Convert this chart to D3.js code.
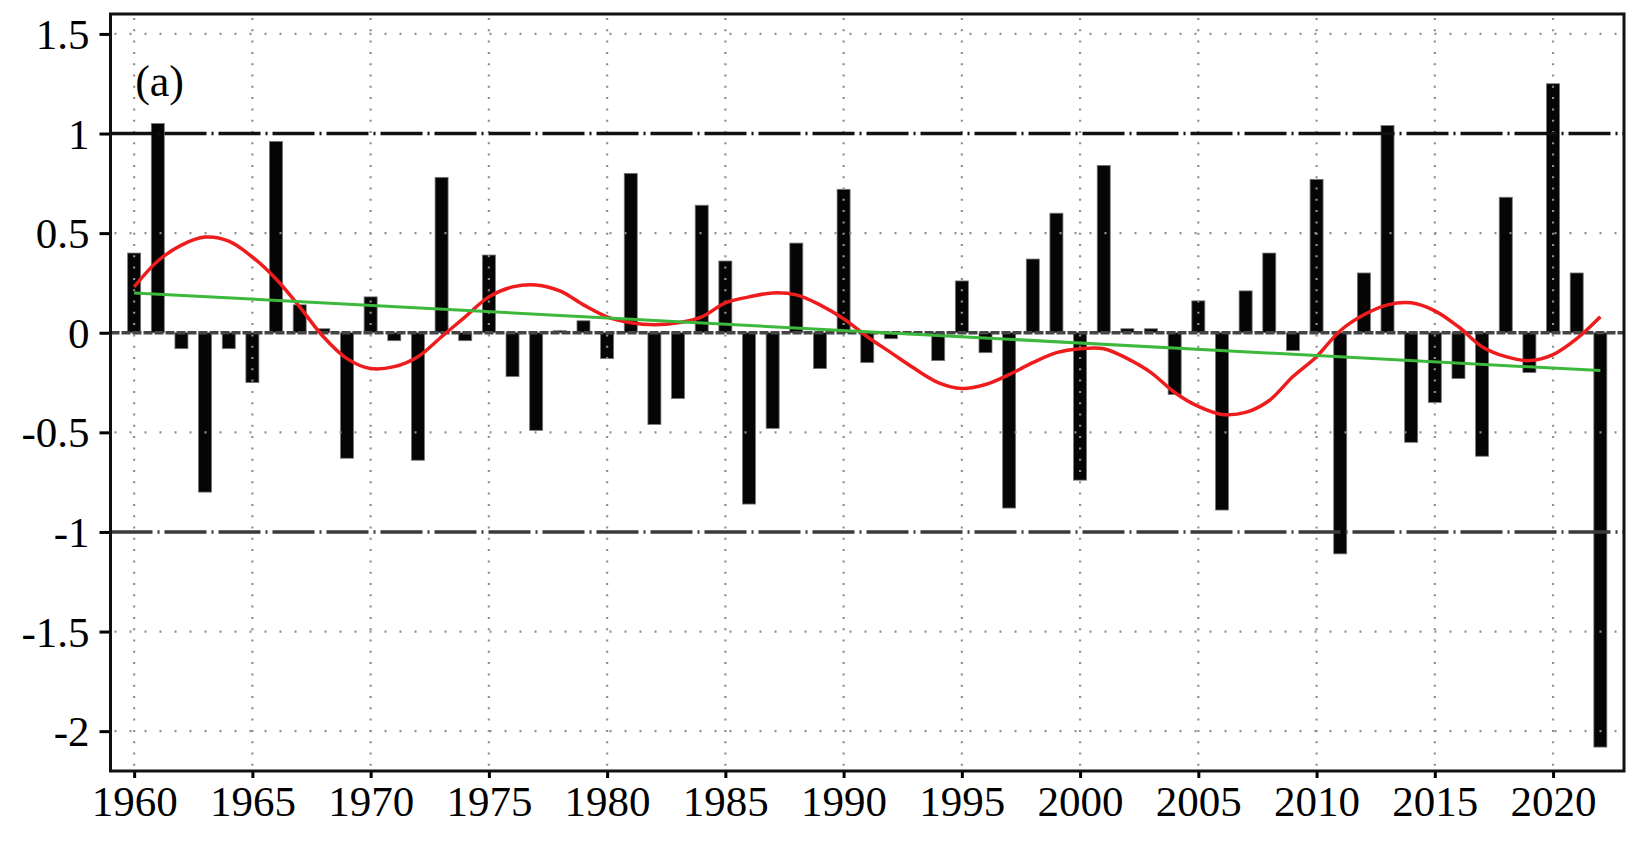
<!DOCTYPE html>
<html>
<head>
<meta charset="utf-8">
<script src="https://d3js.org/d3.v7.min.js"></script>
<style>
  body { margin: 0; background: #fff; }
  text { font-family: "Liberation Serif", "Times New Roman", serif; }
</style>
</head>
<body>
<div id="chart"><svg width="1632" height="851"></svg></div>
<script>
// yearly anomalies
var years = d3.range(1960, 2023)
var values = [
  0.40, 1.05, -0.08, -0.80, -0.08, -0.25, 0.96, 0.14, 0.02, -0.63,
  0.18, -0.04, -0.64, 0.78, -0.04, 0.39, -0.22, -0.49, 0.01, 0.06,
  -0.13, 0.80, -0.46, -0.33, 0.64, 0.36, -0.86, -0.48, 0.45, -0.18,
  0.72, -0.15, -0.03, -0.01, -0.14, 0.26, -0.10, -0.88, 0.37, 0.60,
  -0.74, 0.84, 0.02, 0.02, -0.31, 0.16, -0.89, 0.21, 0.40, -0.09,
  0.77, -1.11, 0.30, 1.04, -0.55, -0.35, -0.23, -0.62, 0.68, -0.20,
  1.25, 0.30, -2.08
]
// smoothed curve (red)
var smooth = [
  0.23, 0.36, 0.44, 0.48, 0.46, 0.38, 0.27, 0.13, -0.02, -0.13,
  -0.18, -0.17, -0.12, -0.02, 0.08, 0.18, 0.23, 0.24, 0.21, 0.14,
  0.08, 0.05, 0.04, 0.05, 0.08, 0.15, 0.18, 0.20, 0.19, 0.14,
  0.07, -0.02, -0.10, -0.18, -0.25, -0.28, -0.26, -0.21, -0.15, -0.10,
  -0.08, -0.08, -0.13, -0.20, -0.30, -0.37, -0.41, -0.40, -0.34, -0.22,
  -0.12, 0.01, 0.09, 0.14, 0.15, 0.11, 0.03, -0.07, -0.12, -0.14,
  -0.11, -0.03, 0.08
]
// linear trend (green)
var trendYears = [1960, 2022]
var trendValues = [0.20, -0.19]

var xTicks = d3.range(1960, 2021, 5)
var yTicks = [-2, -1.5, -1, -0.5, 0, 0.5, 1, 1.5]
var dotGrid = [-2, -1.5, -0.5, 0.5, 1.5]
var refLines = [1, -1]

var svg = d3.select('#chart svg')
var m = { left: 110.5, right: 1624, top: 14, bottom: 771 }

var x = d3.scaleLinear().domain([1959, 2023]).range([m.left, m.right])
var y = d3.scaleLinear().domain([-2.2, 1.6]).range([m.bottom, m.top])

svg.append('rect').attr('width', 1632).attr('height', 851).attr('fill', '#fff')

var barW = 13

// bars
svg.append('g')
  .selectAll('rect')
  .data(years)
  .enter()
  .append('rect')
  .attr('x', function(d) { return x(d) - barW / 2 })
  .attr('width', barW)
  .attr('y', function(d, i) { return y(Math.max(0, values[i])) })
  .attr('height', function(d, i) { return Math.abs(y(values[i]) - y(0)) })
  .attr('fill', '#050505')
  .attr('stroke', '#777')
  .attr('stroke-width', 0.8)

// dotted grid drawn over the bars
svg.append('g')
  .selectAll('line')
  .data(xTicks)
  .enter()
  .append('line')
  .attr('x1', function(d) { return x(d) })
  .attr('x2', function(d) { return x(d) })
  .attr('y1', m.top + 4)
  .attr('y2', m.bottom - 4)
  .attr('stroke', '#8f8f8f')
  .attr('stroke-width', 2.2)
  .attr('stroke-dasharray', '2,9.3')

svg.append('g')
  .selectAll('line')
  .data(dotGrid)
  .enter()
  .append('line')
  .attr('x1', m.left + 4)
  .attr('x2', m.right - 4)
  .attr('y1', function(d) { return y(d) })
  .attr('y2', function(d) { return y(d) })
  .attr('stroke', '#8f8f8f')
  .attr('stroke-width', 2.2)
  .attr('stroke-dasharray', '2,13')

// +1 / -1 dash-dot lines
svg.append('g')
  .selectAll('line')
  .data(refLines)
  .enter()
  .append('line')
  .attr('x1', m.left)
  .attr('x2', m.right)
  .attr('y1', function(d) { return y(d) })
  .attr('y2', function(d) { return y(d) })
  .attr('stroke', function(d) { return d > 0 ? '#111' : '#3a3a3a' })
  .attr('stroke-width', 3.5)
  .attr('stroke-dasharray', '42,5,2,5')

// zero line
svg.append('line')
  .attr('x1', m.left)
  .attr('x2', m.right)
  .attr('y1', y(0))
  .attr('y2', y(0))
  .attr('stroke', '#444')
  .attr('stroke-width', 3.5)
  .attr('stroke-dasharray', '9,2')

// smoothed curve
var line = d3.line()
  .x(function(d) { return x(d[0]) })
  .y(function(d) { return y(d[1]) })
  .curve(d3.curveCatmullRom)

svg.append('path')
  .datum(d3.zip(years, smooth))
  .attr('d', line)
  .attr('fill', 'none')
  .attr('stroke', '#ee1c1c')
  .attr('stroke-width', 3.5)

svg.append('path')
  .datum(d3.zip(trendYears, trendValues))
  .attr('d', d3.line().x(function(d) { return x(d[0]) }).y(function(d) { return y(d[1]) }))
  .attr('fill', 'none')
  .attr('stroke', '#3cb93c')
  .attr('stroke-width', 3)

// axes
var yAxis = d3.axisLeft(y)
  .tickValues(yTicks)
  .tickSize(11)
  .tickPadding(10)
  .tickFormat(function(d) { return String(d) })

var gy = svg.append('g')
  .attr('transform', 'translate(' + m.left + ',0)')
  .call(yAxis)

var xAxis = d3.axisBottom(x)
  .tickValues(xTicks)
  .tickSize(7)
  .tickPadding(7)
  .tickFormat(function(d) { return String(d) })

var gx = svg.append('g')
  .attr('transform', 'translate(0,' + m.bottom + ')')
  .call(xAxis)

svg.selectAll('.domain').remove()
svg.selectAll('.tick line').attr('stroke', '#000').attr('stroke-width', 3)
svg.selectAll('.tick text')
  .attr('font-family', '"Liberation Serif", "Times New Roman", serif')
  .attr('font-size', 43)
  .attr('fill', '#000')
gy.selectAll('.tick text').attr('dy', '0.34em')

// frame
svg.append('rect')
  .attr('x', m.left)
  .attr('y', m.top)
  .attr('width', m.right - m.left)
  .attr('height', m.bottom - m.top)
  .attr('fill', 'none')
  .attr('stroke', '#111')
  .attr('stroke-width', 3)

svg.append('text')
  .attr('x', x(1960) + 1)
  .attr('y', y(1.19))
  .attr('font-size', 44)
  .attr('fill', '#000')
  .text('(a)')
</script>
</body>
</html>
